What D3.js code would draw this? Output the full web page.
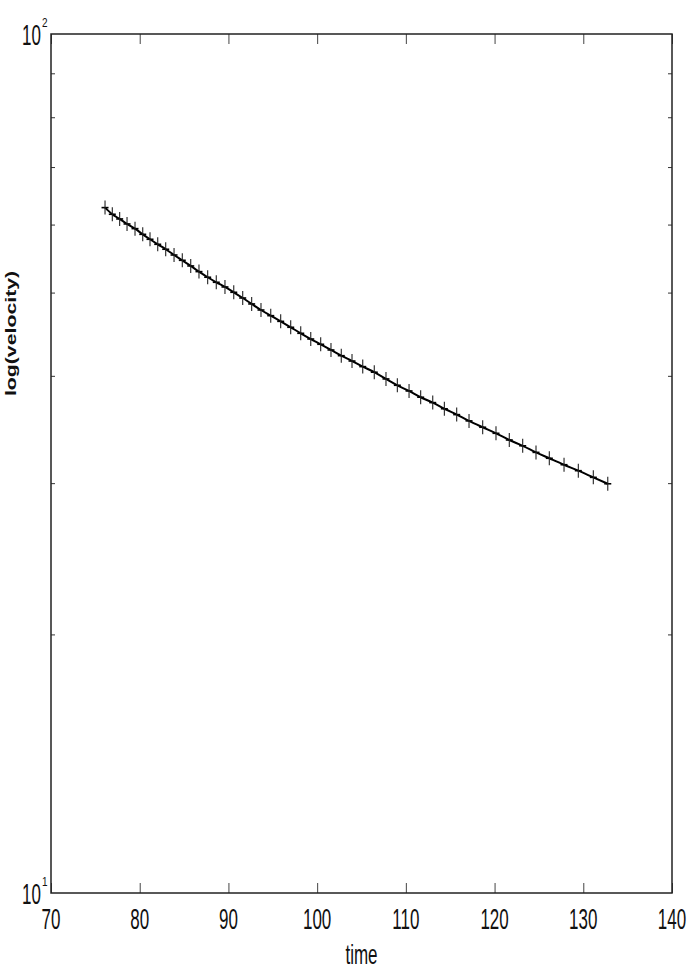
<!DOCTYPE html>
<html>
<head>
<meta charset="utf-8">
<script src="https://cdn.jsdelivr.net/npm/d3@7"></script>
<style>
  html, body { margin: 0; padding: 0; background: #fff; }
  text { font-family: "Liberation Sans", Arial, Helvetica, sans-serif; fill: #111; }
</style>
</head>
<body>
<div class="chart"></div>
<script>
var width = 692, height = 969;
var margin = {left: 51, top: 34, right: 20, bottom: 76};

// data
var times = [76.09, 76.91, 77.74, 78.57, 79.47, 80.34, 81.16, 82.03, 82.93, 83.87,
             84.80, 85.75, 86.68, 87.66, 88.63, 89.61, 90.60, 91.61, 92.62, 93.67,
             94.77, 95.89, 97.02, 98.15, 99.28, 100.40, 101.56, 102.72, 103.93, 105.14,
             106.44, 107.76, 109.04, 110.36, 111.67, 113.03, 114.34, 115.73, 117.12, 118.66,
             120.16, 121.66, 123.17, 124.67, 126.17, 127.83, 129.44, 131.13, 132.76];
var velocity = [62.79, 61.68, 60.91, 60.10, 59.35, 58.45, 57.68, 56.91, 56.16, 55.30,
                54.52, 53.70, 52.89, 52.10, 51.40, 50.76, 50.04, 49.28, 48.50, 47.72,
                47.00, 46.29, 45.56, 44.83, 44.15, 43.53, 42.87, 42.22, 41.62, 41.00,
                40.39, 39.67, 39.00, 38.41, 37.77, 37.23, 36.62, 36.05, 35.45, 34.85,
                34.29, 33.68, 33.16, 32.58, 32.07, 31.52, 31.02, 30.47, 29.95];
var xTicks = [70, 80, 90, 100, 110, 120, 130, 140];
var yMajor = [10, 100];
var yExp = ["1", "2"];
var yMinor = [20, 30, 40, 50, 60, 70, 80, 90];

var data = times.map(function(t, i) { return {t: t, v: velocity[i]}; });

var svg = d3.select(".chart")
    .append("svg")
    .attr("width", width)
    .attr("height", height);

var x = d3.scaleLinear().domain([70, 140]).range([margin.left, width - margin.right]);
var y = d3.scaleLog().domain([10, 100]).range([height - margin.bottom, margin.top]);

var stretch = 1.75; // the picture is stretched vertically

// ticks, pointing inward
svg.append("g")
    .attr("transform", "translate(0," + y(10) + ")")
    .call(d3.axisBottom(x).tickValues(xTicks).tickSize(-10).tickFormat(""))
    .call(function(g) { g.select(".domain").remove(); g.selectAll("line").attr("stroke", "#444"); });
svg.append("g")
    .attr("transform", "translate(0," + y(100) + ")")
    .call(d3.axisTop(x).tickValues(xTicks).tickSize(-10).tickFormat(""))
    .call(function(g) { g.select(".domain").remove(); g.selectAll("line").attr("stroke", "#444"); });
svg.append("g")
    .attr("transform", "translate(" + x(70) + ",0)")
    .call(d3.axisLeft(y).tickValues(yMinor).tickSize(-4).tickFormat(""))
    .call(function(g) { g.select(".domain").remove(); g.selectAll("line").attr("stroke", "#333"); });
svg.append("g")
    .attr("transform", "translate(" + x(140) + ",0)")
    .call(d3.axisRight(y).tickValues(yMinor).tickSize(-4).tickFormat(""))
    .call(function(g) { g.select(".domain").remove(); g.selectAll("line").attr("stroke", "#333"); });

// frame
svg.append("rect")
    .attr("x", x(70)).attr("y", y(100))
    .attr("width", x(140) - x(70)).attr("height", y(10) - y(100))
    .attr("fill", "none").attr("stroke", "#222").attr("stroke-width", 1.5);

// x tick labels
svg.selectAll(".xlab")
    .data(xTicks)
    .enter().append("text")
    .attr("class", "xlab")
    .attr("transform", function(d) { return "translate(" + x(d) + "," + (y(10) + 36) + ") scale(1," + stretch + ")"; })
    .attr("text-anchor", "middle")
    .style("font-size", "17px")
    .text(function(d) { return d; });

// y labels 10^1, 10^2
var ylab = svg.selectAll(".ylab")
    .data(yMajor)
    .enter().append("g")
    .attr("class", "ylab");
ylab.append("text")
    .attr("transform", function(d) { return "translate(" + (x(70) - 10) + "," + (y(d) + 11) + ") scale(1," + stretch + ")"; })
    .attr("text-anchor", "end")
    .style("font-size", "17px")
    .text("10");
ylab.append("text")
    .attr("transform", function(d) { return "translate(" + (x(70) - 9) + "," + (y(d) - 7) + ") scale(1,1.3)"; })
    .attr("text-anchor", "start")
    .style("font-size", "10px")
    .text(function(d, i) { return yExp[i]; });

// axis titles
svg.append("text")
    .attr("transform", "translate(" + ((x(70) + x(140)) / 2) + "," + (height - 5) + ") scale(1,1.6)")
    .attr("text-anchor", "middle")
    .style("font-size", "17px")
    .text("time");
svg.append("text")
    .attr("transform", "translate(16," + ((y(10) + y(100)) / 2 - 130) + ") scale(1,1.52) rotate(-90)")
    .attr("text-anchor", "middle")
    .style("font-size", "14px")
    .style("font-weight", "bold")
    .text("log(velocity)");

// line
var line = d3.line()
    .x(function(d) { return x(d.t); })
    .y(function(d) { return y(d.v); })
    .curve(d3.curveMonotoneX);
svg.append("path")
    .datum(data)
    .attr("fill", "none")
    .attr("stroke", "#000")
    .attr("stroke-width", 2)
    .attr("d", line);

// plus markers
var mk = svg.selectAll(".mk")
    .data(data)
    .enter().append("g")
    .attr("class", "mk")
    .attr("transform", function(d) { return "translate(" + x(d.t) + "," + y(d.v) + ")"; });
mk.append("line").attr("x1", -3.5).attr("x2", 3.5).attr("y1", 0).attr("y2", 0)
    .attr("stroke", "#000").attr("stroke-width", 1.6);
mk.append("line").attr("x1", 0).attr("x2", 0).attr("y1", -7).attr("y2", 7)
    .attr("stroke", "#222").attr("stroke-width", 1.1);
</script>
</body>
</html>
